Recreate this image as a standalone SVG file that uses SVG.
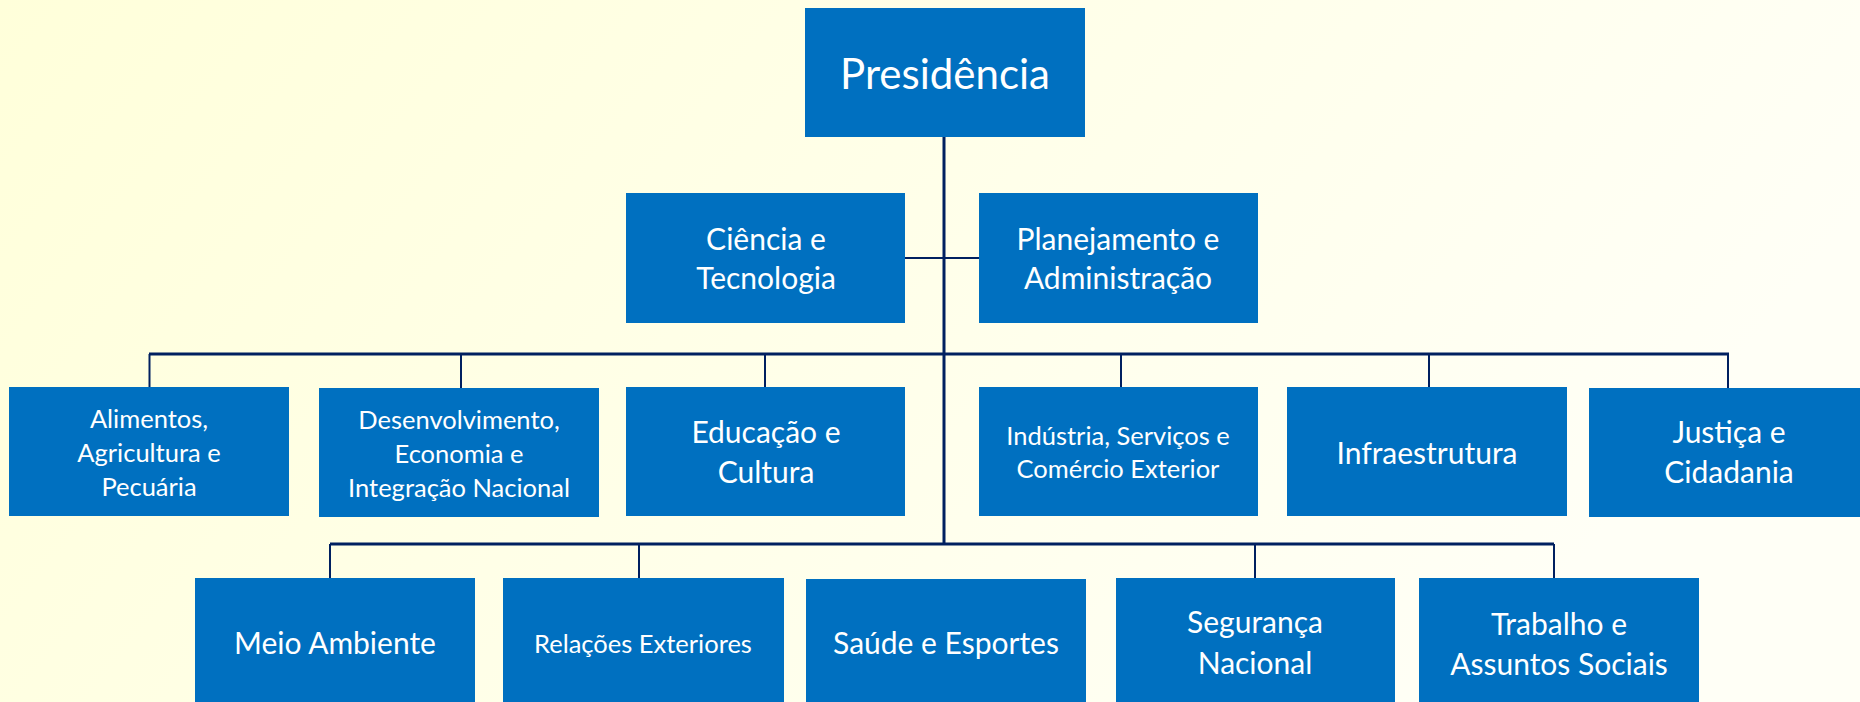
<svg xmlns="http://www.w3.org/2000/svg" width="1860" height="702" viewBox="0 0 1860 702">
<defs>
<linearGradient id="bg" x1="0" y1="0" x2="1" y2="0.3">
<stop offset="0" stop-color="#FFFFDA"/>
<stop offset="1" stop-color="#FFFFF6"/>
</linearGradient>
<style>
.box{fill:#0070C0}
.t{font-family:Lato,"Liberation Sans",sans-serif;fill:#FFFFFF;text-anchor:middle}
.big{font-size:42px}
.m{font-size:30px}
.s{font-size:25.5px}
.thick{stroke:#002060;stroke-width:3;fill:none}
.thin{stroke:#002060;stroke-width:2;fill:none}
</style>
</defs>
<rect x="0" y="0" width="1860" height="702" fill="url(#bg)"/>
<g id="connectors">
<line class="thick" x1="944" y1="136" x2="944" y2="545"/>
<line class="thin" x1="905" y1="258" x2="979" y2="258"/>
<line class="thick" x1="149" y1="354" x2="1729" y2="354"/>
<line class="thin" x1="149.5" y1="354" x2="149.5" y2="387"/>
<line class="thin" x1="461" y1="354" x2="461" y2="388"/>
<line class="thin" x1="765" y1="354" x2="765" y2="387"/>
<line class="thin" x1="1121" y1="354" x2="1121" y2="387"/>
<line class="thin" x1="1429" y1="354" x2="1429" y2="387"/>
<line class="thin" x1="1728" y1="354" x2="1728" y2="388"/>
<line class="thick" x1="330" y1="544" x2="1554" y2="544"/>
<line class="thin" x1="330" y1="544" x2="330" y2="578"/>
<line class="thin" x1="639" y1="544" x2="639" y2="578"/>
<line class="thin" x1="1255" y1="544" x2="1255" y2="578"/>
<line class="thin" x1="1554" y1="544" x2="1554" y2="578"/>
</g>
<g id="presidencia">
<rect class="box" x="805" y="8" width="280" height="129"/>
<text class="t big" x="945" y="89">Presidência</text>
</g>
<g id="ciencia">
<rect class="box" x="626" y="193" width="279" height="130"/>
<text class="t m" x="766" y="250">Ciência e</text>
<text class="t m" x="766" y="289">Tecnologia</text>
</g>
<g id="planejamento">
<rect class="box" x="979" y="193" width="279" height="130"/>
<text class="t m" x="1118" y="250">Planejamento e</text>
<text class="t m" x="1118" y="289">Administração</text>
</g>
<g id="alimentos">
<rect class="box" x="9" y="387" width="280" height="129"/>
<text class="t s" x="149" y="428">Alimentos,</text>
<text class="t s" x="149" y="462">Agricultura e</text>
<text class="t s" x="149" y="496">Pecuária</text>
</g>
<g id="desenvolvimento">
<rect class="box" x="319" y="388" width="280" height="129"/>
<text class="t s" x="459" y="429">Desenvolvimento,</text>
<text class="t s" x="459" y="463">Economia e</text>
<text class="t s" x="459" y="497">Integração Nacional</text>
</g>
<g id="educacao">
<rect class="box" x="626" y="387" width="279" height="129"/>
<text class="t m" x="766" y="443">Educação e</text>
<text class="t m" x="766" y="483">Cultura</text>
</g>
<g id="industria">
<rect class="box" x="979" y="387" width="279" height="129"/>
<text class="t s" x="1118" y="445">Indústria, Serviços e</text>
<text class="t s" x="1118" y="478">Comércio Exterior</text>
</g>
<g id="infraestrutura">
<rect class="box" x="1287" y="387" width="280" height="129"/>
<text class="t m" x="1427" y="464">Infraestrutura</text>
</g>
<g id="justica">
<rect class="box" x="1589" y="388" width="280" height="129"/>
<text class="t m" x="1729" y="443">Justiça e</text>
<text class="t m" x="1729" y="483">Cidadania</text>
</g>
<g id="meio-ambiente">
<rect class="box" x="195" y="578" width="280" height="130"/>
<text class="t m" x="335" y="654">Meio Ambiente</text>
</g>
<g id="relacoes">
<rect class="box" x="503" y="578" width="281" height="130"/>
<text class="t s" x="643" y="653">Relações Exteriores</text>
</g>
<g id="saude">
<rect class="box" x="806" y="579" width="280" height="130"/>
<text class="t m" x="946" y="654">Saúde e Esportes</text>
</g>
<g id="seguranca">
<rect class="box" x="1116" y="578" width="279" height="130"/>
<text class="t m" x="1255" y="633">Segurança</text>
<text class="t m" x="1255" y="674">Nacional</text>
</g>
<g id="trabalho">
<rect class="box" x="1419" y="578" width="280" height="130"/>
<text class="t m" x="1559" y="635">Trabalho e</text>
<text class="t m" x="1559" y="675">Assuntos Sociais</text>
</g>
</svg>
